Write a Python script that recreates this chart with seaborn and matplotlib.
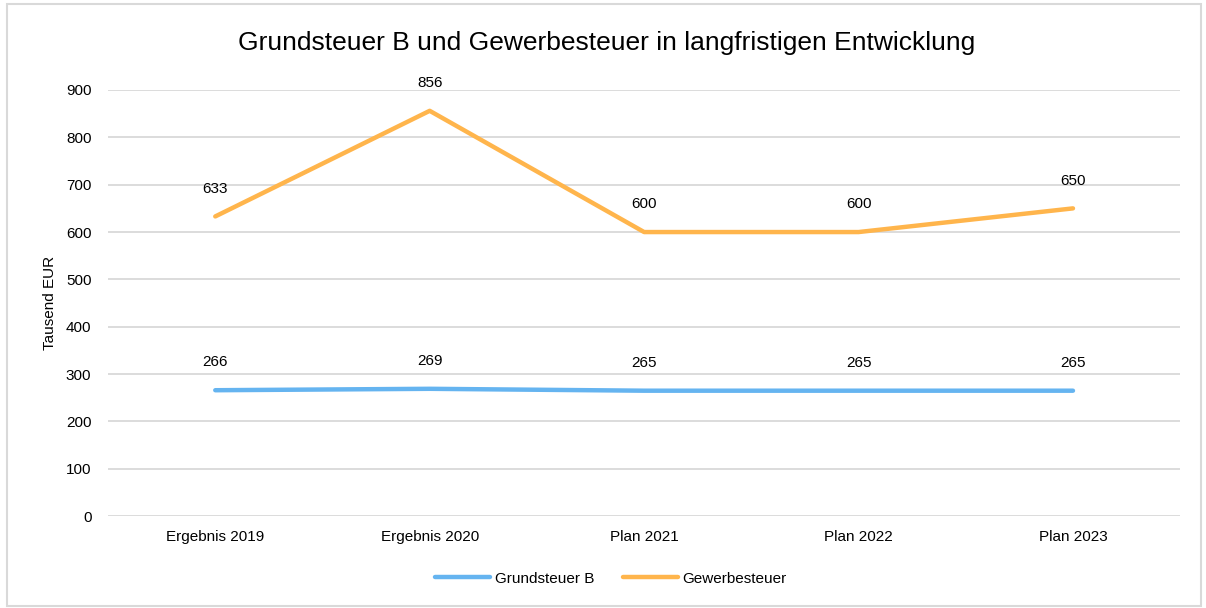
import pandas as pd
import seaborn as sns
import matplotlib.pyplot as plt
from matplotlib.patches import Rectangle

# Chart data
jahre = ['Ergebnis 2019', 'Ergebnis 2020', 'Plan 2021', 'Plan 2022', 'Plan 2023']
grundsteuer_b = [266, 269, 265, 265, 265]
gewerbesteuer = [633, 856, 600, 600, 650]

df = pd.DataFrame({
    'Jahr': jahre * 2,
    'Wert': grundsteuer_b + gewerbesteuer,
    'Steuer': ['Grundsteuer B'] * len(jahre) + ['Gewerbesteuer'] * len(jahre),
})

sns.set_style('white')
plt.rcParams['font.family'] = ['Liberation Sans', 'DejaVu Sans']
plt.rcParams['text.color'] = 'black'
plt.rcParams['xtick.color'] = 'black'
plt.rcParams['ytick.color'] = 'black'
plt.rcParams['axes.labelcolor'] = 'black'

fig = plt.figure(figsize=(12.06, 6.08), dpi=100)
ax = fig.add_axes([0.0896, 0.151, 0.889, 0.701])

palette = {'Grundsteuer B': '#65B4F0', 'Gewerbesteuer': '#FFB54C'}
sns.lineplot(data=df, x='Jahr', y='Wert', hue='Steuer', palette=palette,
             linewidth=3.2, sort=False, ax=ax, solid_capstyle='round')

# data labels above the points
for i, (g, w) in enumerate(zip(grundsteuer_b, gewerbesteuer)):
    ax.annotate(str(g), (i, g), xytext=(0, 20), textcoords='offset points',
                ha='center', va='center', fontsize=11)
    ax.annotate(str(w), (i, w), xytext=(0, 20), textcoords='offset points',
                ha='center', va='center', fontsize=11)

ax.set_xlim(-0.5, len(jahre) - 0.5)
ax.set_ylim(0, 900)
ax.set_yticks(range(0, 901, 100))
ax.yaxis.grid(True, color='#D9D9D9', linewidth=1.3)
ax.set_axisbelow(True)
for s in ax.spines.values():
    s.set_visible(False)
ax.tick_params(axis='y', labelsize=11, pad=12, length=0)
ax.tick_params(axis='x', labelsize=11, pad=10, length=0)
ax.set_xlabel('')
ax.set_ylabel('Tausend EUR', fontsize=11)
ax.yaxis.set_label_coords(-0.048, 0.5)

fig.suptitle('Grundsteuer B und Gewerbesteuer in langfristigen Entwicklung',
             fontsize=19, y=0.929, x=0.503, va='center')

ax.legend(loc='center', bbox_to_anchor=(0.469, -0.147), ncol=2, frameon=False,
          fontsize=11, handlelength=3.6, handletextpad=0.27, columnspacing=1.9)

# light border round the figure
fig.patches.append(Rectangle((0.006, 0.003), 0.99, 0.99, transform=fig.transFigure,
                             fill=False, edgecolor='#D9D9D9', linewidth=1.5))

plt.savefig('out.png', dpi=100)
